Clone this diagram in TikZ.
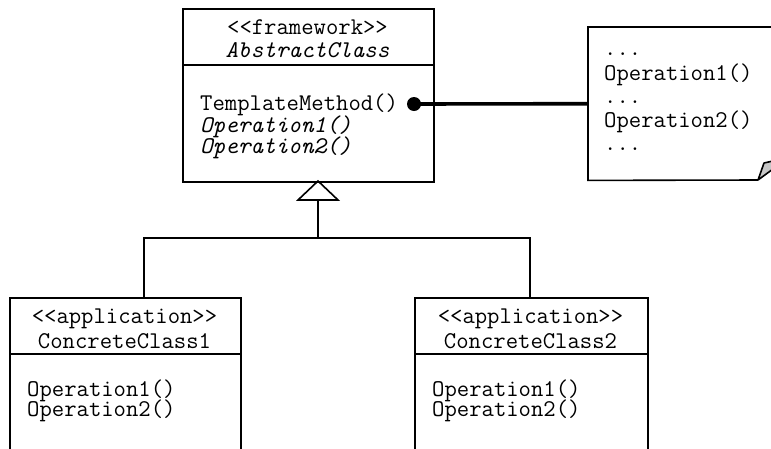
\documentclass[tikz,border=0pt]{standalone}
\usepackage{fontspec}
\begin{document}
\begin{tikzpicture}[x=1pt,y=-1pt,
  outline/.style={draw=black,line width=1.6pt},
  classbox/.style={rectangle,draw=black,line width=1.6pt,anchor=north west,inner sep=0pt},
  txt/.style={inner sep=0pt,font=\ttfamily\fontsize{24}{26}\selectfont},
  itxt/.style={inner sep=0pt,font=\ttfamily\itshape\fontsize{24}{26}\selectfont},
  link/.style={draw=black,line width=1.6pt}]
\useasboundingbox (0,0) rectangle (771,448);
\clip (0,0) rectangle (771,448);

% abstract framework class
\node[classbox,minimum width=251pt,minimum height=173pt] (abs) at (182,8) {};
\draw[outline] (abs.west |- 0,65) -- (abs.east |- 0,65);
\node[txt,anchor=base] (absst) at (307.5,34) {<{}<framework>{}>};
\node[itxt,anchor=base] (absname) at (307.5,57) {AbstractClass};
\node[txt,anchor=base west] (absm1) at (200,110) {TemplateMethod()};
\node[itxt,anchor=base west] (absm2) at (200,132) {Operation1()};
\node[itxt,anchor=base west] (absm3) at (200,153) {Operation2()};

% note attached to the template method
\node[minimum width=200pt,minimum height=153pt,anchor=north west,inner sep=0pt] (note) at (588,27) {};
\draw[outline] (758,180) -- (note.south west) -- (note.north west) -- (note.north east);
\draw[outline,fill=black!22,line join=round] (758,180) -- (764,163) -- (773,161) -- (773,169) -- cycle;
\node[txt,anchor=base west] (n1) at (604,55) {...};
\node[txt,anchor=base west] (n2) at (604,80) {Operation1()};
\node[txt,anchor=base west] (n3) at (604,103) {...};
\node[txt,anchor=base west] (n4) at (604,127) {Operation2()};
\node[txt,anchor=base west] (n5) at (604,150) {...};

\node[circle,fill=black,inner sep=0pt,minimum size=14pt] (dot) at (414,104) {};
\draw[line width=3.6pt] (dot.center) -- (note.west);

% concrete application classes
\node[classbox,minimum width=231pt,minimum height=200pt] (cc1) at (9,297) {};
\draw[outline] (cc1.west |- 0,354) -- (cc1.east |- 0,354);
\node[txt,anchor=base] (cc1st) at (124.5,323) {<{}<application>{}>};
\node[txt,anchor=base] (cc1name) at (124.5,348) {ConcreteClass1};
\node[txt,anchor=base west] (cc1m1) at (27,396) {Operation1()};
\node[txt,anchor=base west] (cc1m2) at (27,416) {Operation2()};

\node[classbox,minimum width=233pt,minimum height=200pt] (cc2) at (414,297) {};
\draw[outline] (cc2.west |- 0,354) -- (cc2.east |- 0,354);
\node[txt,anchor=base] (cc2st) at (530.5,323) {<{}<application>{}>};
\node[txt,anchor=base] (cc2name) at (530.5,348) {ConcreteClass2};
\node[txt,anchor=base west] (cc2m1) at (432,396) {Operation1()};
\node[txt,anchor=base west] (cc2m2) at (432,416) {Operation2()};

% generalization
\coordinate (apex) at (318,181);
\coordinate (tribase) at (318,200);
\coordinate (joint) at (318,238);
\coordinate (barL) at (144,238);
\coordinate (barR) at (530,238);
\draw[link,line join=miter] (apex) -- (298,200) -- (338,200) -- cycle;
\draw[link] (tribase) -- (joint);
\draw[link,line join=miter] (barL |- cc1.north) -- (barL) -- (barR) -- (barR |- cc2.north);
\end{tikzpicture}
\end{document}
